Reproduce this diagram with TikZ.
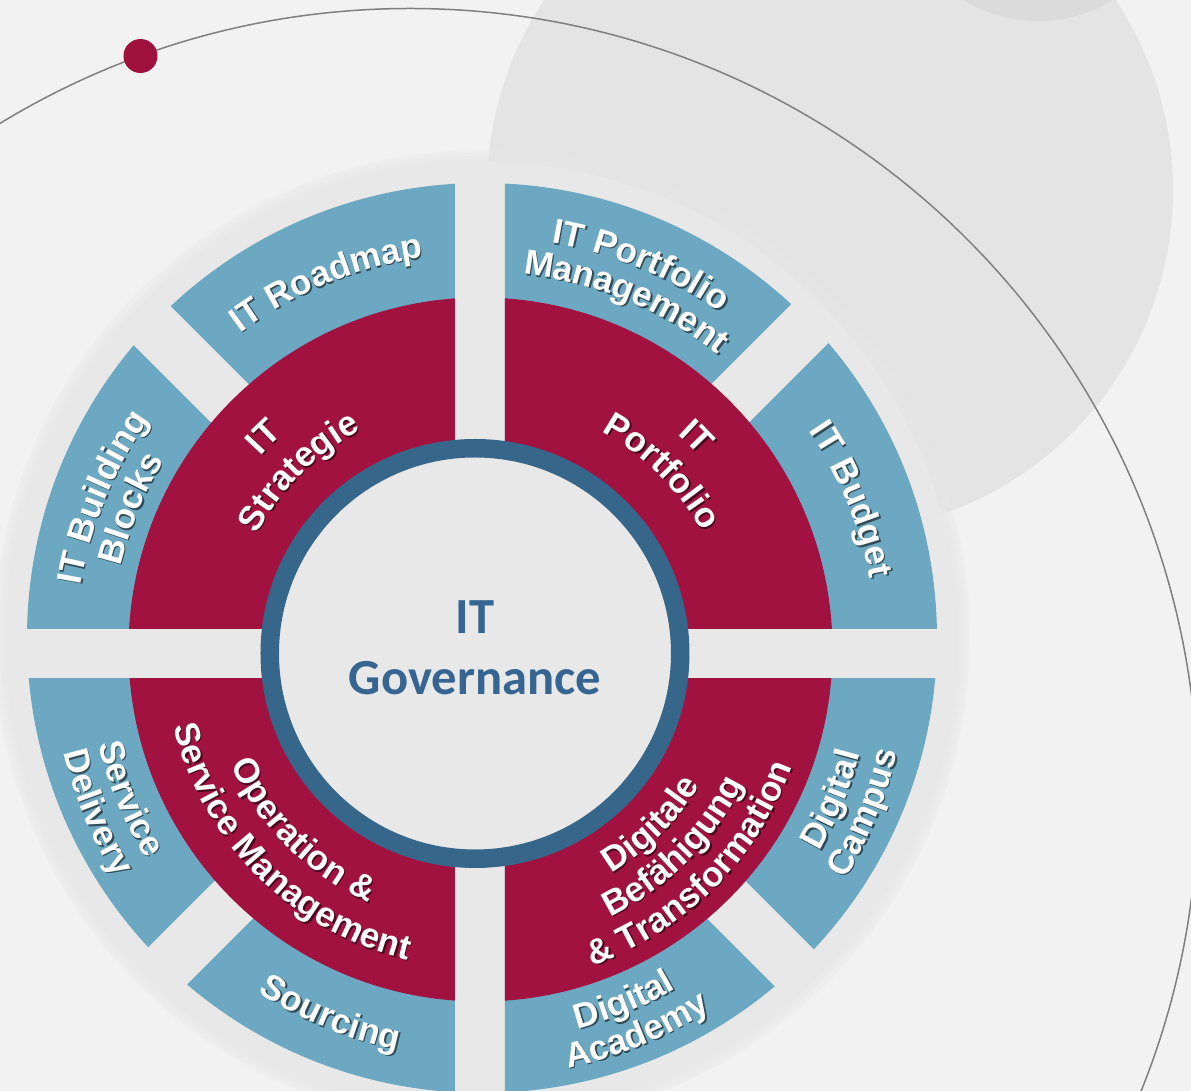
\documentclass[tikz,border=0pt]{standalone}
\usepackage{fontspec}
\usetikzlibrary{decorations.text}
\newfontfamily\segfam{Liberation Sans}
\newfontfamily\govfam{Carlito}
\newcommand{\segfont}{\segfam\bfseries\fontsize{17.5}{21}\selectfont}
\newcommand{\govfont}{\govfam\bfseries\fontsize{25.3}{30.5}\selectfont}

\definecolor{bgc}{HTML}{F2F2F2}
\definecolor{discgrey}{HTML}{E4E4E4}
\definecolor{discdark}{HTML}{DBDBDB}
\definecolor{haloc}{HTML}{E8E8E8}
\definecolor{orbitc}{HTML}{808080}
\definecolor{dotc}{HTML}{A0123E}
\definecolor{segblue}{HTML}{6CA8C2}
\definecolor{segred}{HTML}{A11240}
\definecolor{ringc}{HTML}{36668A}
\definecolor{centerc}{HTML}{E8E8E8}
\definecolor{govtext}{HTML}{356590}
\colorlet{bluesh}{segblue!45!black}
\colorlet{redsh}{segred!45!black}

\tikzset{
  orbitline/.style={draw=orbitc, line width=0.75pt},
  bluepiece/.style={fill=segblue},
  redpiece/.style={fill=segred},
  hubring/.style={draw=ringc, line width=9.25pt, fill=centerc},
}

% #1 mid angle, #2 baseline radius, #3 1 = top (clockwise), -1 = bottom, #4 shadow, #5 text
\newcommand{\ringlabel}[5]{%
  \foreach \tc/\off in {#4/1.5, white/0}
    \path[shift={(\off,-\off)}, decorate,
      decoration={text along path, text align=center, text color=\tc, text={|\segfont|#5}}]
      ({#1+(#3)*70}:#2) arc[start angle={#1+(#3)*70}, end angle={#1-(#3)*70}, radius=#2];
}

\begin{document}
\begin{tikzpicture}[x=0.5pt, y=0.5pt]
\useasboundingbox (-480,-437.5) rectangle (711,653.5);
\clip (-480,-437.5) rectangle (711,653.5);
\fill[bgc] (-480,-437.5) rectangle (711,653.5);

% grey discs in the back
\fill[discgrey] (350,463.5) circle (343);
\fill[discdark] (558,776.5) circle (144);

% halo round the wheel
\foreach \r in {488,485,482,479}
  \fill[haloc, opacity=0.3] (2,15.5) circle (\r);
\fill[haloc] (2,15.5) circle (476);

% orbit with dot
\coordinate (orbit) at (-70,-143);
\draw[orbitline] (orbit) circle (788);
\fill[dotc] ([shift={(110:788)}]orbit) circle (17);

% outer blue pieces
\coordinate (hub) at (0,0);
\foreach \a/\ga/\b/\gb in {0/25/45/27, 45/27/90/25, 90/25/135/27, 135/27/180/25,
                           180/25/225/27, 225/27/270/25, 270/25/315/27, 315/27/360/25} {
  \begin{scope}
    \clip[rotate=\a] (-700,\ga) rectangle (700,700);
    \clip[rotate=\b] (-700,-700) rectangle (700,-\gb);
    \fill[bluepiece] ([shift={(2,15.5)}]hub) circle (455);
  \end{scope}
}

% red quadrants
\foreach \a in {0,90,180,270} {
  \begin{scope}
    \clip[rotate=\a] (-700,25) rectangle (700,700);
    \clip[rotate=\a+90] (-700,-700) rectangle (700,-25);
    \fill[redpiece] ([shift={(0.5,4)}]hub) circle (352);
  \end{scope}
}

% centre
\draw[hubring] ([shift={(-5,0)}]hub) circle (205.25);
\node[font=\govfont, text=govtext, align=center] (gov) at (-5,6) {IT\\Governance};

% blue labels
\ringlabel{112.5}{400}{1}{bluesh}{IT Roadmap}
\ringlabel{157.5}{405}{1}{bluesh}{IT Building}
\ringlabel{157.5}{370}{1}{bluesh}{Blocks}
\ringlabel{67.5}{417}{1}{bluesh}{IT Portfolio}
\ringlabel{67.5}{382}{1}{bluesh}{Management}
\ringlabel{22.5}{397}{1}{bluesh}{IT Budget}
\ringlabel{-22.5}{393}{-1}{bluesh}{Digital}
\ringlabel{-22.5}{429}{-1}{bluesh}{Campus}
\ringlabel{-67.5}{388}{-1}{bluesh}{Digital}
\ringlabel{-67.5}{424}{-1}{bluesh}{Academy}
\ringlabel{-112.5}{405}{-1}{bluesh}{Sourcing}
\ringlabel{-157.5}{392}{-1}{bluesh}{Service}
\ringlabel{-157.5}{428}{-1}{bluesh}{Delivery}

% red labels
\ringlabel{135}{295}{1}{redsh}{IT}
\ringlabel{135}{253}{1}{redsh}{Strategie}
\ringlabel{45}{295}{1}{redsh}{IT}
\ringlabel{45}{253}{1}{redsh}{Portfolio}
\ringlabel{-135}{273}{-1}{redsh}{Operation {\&}}
\ringlabel{-135}{315}{-1}{redsh}{Service Management}
\ringlabel{-45}{256}{-1}{redsh}{Digitale}
\ringlabel{-45}{294}{-1}{redsh}{Befähigung}
\ringlabel{-45}{332}{-1}{redsh}{{\&} Transformation}
\end{tikzpicture}
\end{document}
